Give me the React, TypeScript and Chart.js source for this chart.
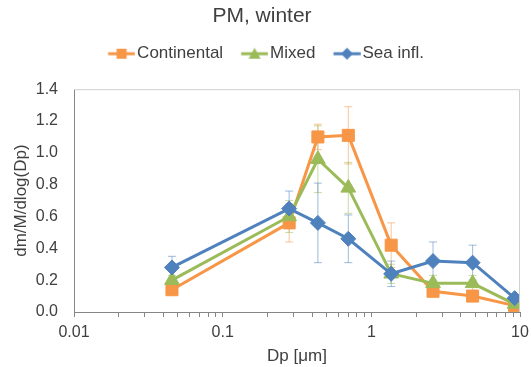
import React, { useEffect, useRef } from 'react';
import { Chart, registerables } from 'chart.js';

Chart.register(...registerables);

// ---- data ----
const sizes = [0.0456, 0.28, 0.437, 0.7, 1.36, 2.6, 4.8, 9.2];
const seriesNames = ['Continental', 'Mixed', 'Sea infl.'];
const continental = [0.14, 0.56, 1.1, 1.11, 0.42, 0.13, 0.1, 0.04];
const continentalErr = [0.03, 0.12, 0.08, 0.18, 0.14, 0.03, 0.02, 0.01];
const mixed = [0.2, 0.6, 0.96, 0.78, 0.24, 0.18, 0.18, 0.05];
const mixedErr = [0.03, 0.1, 0.21, 0.16, 0.06, 0.05, 0.05, 0.02];
const sea = [0.28, 0.65, 0.56, 0.46, 0.24, 0.32, 0.31, 0.087];
const seaErr = [0.07, 0.11, 0.25, 0.15, 0.08, 0.12, 0.11, 0.02];
const xTickValues = [0.01, 0.1, 1, 10];
const xTickLabels = ['0.01', '0.1', '1', '10'];
const yTicks = [0, 0.2, 0.4, 0.6, 0.8, 1.0, 1.2, 1.4];

const colors = ['#F79646', '#9BBB59', '#4F81BD'];
const errColors = ['rgba(247,150,70,0.55)', 'rgba(155,187,89,0.55)', 'rgba(79,129,189,0.55)'];
const markerStyles = ['rect', 'triangle', 'rectRot'];
const markerRadius = [8.5, 8.5, 7.5];
const FONT = '"Liberation Sans", Arial, sans-serif';
const TEXT = '#404040';

function makeIcon(color: string, style: string): HTMLCanvasElement {
  const c = document.createElement('canvas');
  c.width = 36;
  c.height = 16;
  const ctx = c.getContext('2d')!;
  ctx.strokeStyle = color;
  ctx.fillStyle = color;
  ctx.lineWidth = 3;
  ctx.beginPath();
  ctx.moveTo(8.75, 8);
  ctx.lineTo(35.75, 8);
  ctx.stroke();
  const cx = 22.25;
  const cy = 8;
  ctx.beginPath();
  if (style === 'rect') {
    ctx.rect(cx - 5, cy - 5, 10, 10);
  } else if (style === 'triangle') {
    ctx.moveTo(cx, cy - 6);
    ctx.lineTo(cx + 6, cy + 5);
    ctx.lineTo(cx - 6, cy + 5);
    ctx.closePath();
  } else {
    ctx.moveTo(cx, cy - 6);
    ctx.lineTo(cx + 6, cy);
    ctx.lineTo(cx, cy + 6);
    ctx.lineTo(cx - 6, cy);
    ctx.closePath();
  }
  ctx.fill();
  return c;
}

const legendPadPlugin = {
  id: 'legendPad',
  beforeLayout(chart: any) {
    const lg = chart.legend;
    if (lg && !lg._padPatched) {
      const orig = lg.fit;
      lg.fit = function () {
        orig.call(this);
        this.height += 17;
        if (this.lineWidths && this.lineWidths.length) this.lineWidths[0] -= 6;
      };
      lg._padPatched = true;
    }
  },
};

const errorBarPlugin = {
  id: 'errorBars',
  beforeDatasetsDraw(chart: any) {
    const ctx = chart.ctx;
    const xs = chart.scales.x;
    const ys = chart.scales.y;
    chart.data.datasets.forEach((ds: any, i: number) => {
      const errs: number[] = ds.errors || [];
      ctx.save();
      ctx.strokeStyle = errColors[i];
      ctx.lineWidth = 1;
      ds.data.forEach((p: any, j: number) => {
        const e = errs[j] || 0;
        const x = xs.getPixelForValue(p.x);
        const yt = ys.getPixelForValue(p.y + e);
        const yb = ys.getPixelForValue(Math.max(0, p.y - e));
        ctx.beginPath();
        ctx.moveTo(x, yt);
        ctx.lineTo(x, yb);
        ctx.moveTo(x - 4, yt);
        ctx.lineTo(x + 4, yt);
        ctx.moveTo(x - 4, yb);
        ctx.lineTo(x + 4, yb);
        ctx.stroke();
      });
      ctx.restore();
    });
  },
};

const frameBorderPlugin = {
  id: 'frameBorder',
  afterDraw(chart: any) {
    const { ctx, chartArea } = chart;
    ctx.save();
    ctx.strokeStyle = '#D0D0D0';
    ctx.lineWidth = 1;
    ctx.beginPath();
    ctx.moveTo(chartArea.left, chartArea.top + 0.5);
    ctx.lineTo(chartArea.right - 0.5, chartArea.top + 0.5);
    ctx.lineTo(chartArea.right - 0.5, chartArea.bottom);
    ctx.stroke();
    ctx.restore();
  },
};

export default function App() {
  const ref = useRef<HTMLCanvasElement>(null);

  useEffect(() => {
    if (!ref.current) return;
    const values = [continental, mixed, sea];
    const errs = [continentalErr, mixedErr, seaErr];
    const icons = colors.map((c, i) => makeIcon(c, markerStyles[i]));

    const datasets = seriesNames.map((name, i) => ({
      label: name,
      data: sizes.map((x, j) => ({ x, y: values[i][j] })),
      errors: errs[i],
      borderColor: colors[i],
      backgroundColor: colors[i],
      borderWidth: 3,
      pointStyle: markerStyles[i],
      pointRadius: markerRadius[i],
      pointBorderWidth: 1,
      pointBackgroundColor: colors[i],
      pointBorderColor: colors[i],
      tension: 0,
      order: 2 - i,
    }));

    const chart = new Chart(ref.current, {
      type: 'line',
      data: { datasets },
      plugins: [legendPadPlugin, errorBarPlugin, frameBorderPlugin],
      options: {
        animation: false,
        responsive: false,
        layout: { padding: { left: 0, right: 7, top: 0, bottom: 0 } },
        plugins: {
          tooltip: { enabled: false },
          title: {
            display: true,
            text: 'PM, winter',
            color: TEXT,
            font: { family: FONT, size: 21, weight: 'normal' },
            padding: { top: 4, bottom: 0 },
          },
          legend: {
            display: true,
            position: 'top',
            labels: {
              usePointStyle: true,
              pointStyleWidth: 22.5,
              padding: 16,
              color: TEXT,
              font: { family: FONT, size: 17 },
              generateLabels: (ch: any) =>
                ch.data.datasets.map((ds: any, i: number) => ({
                  text: ds.label,
                  fillStyle: colors[i],
                  strokeStyle: colors[i],
                  lineWidth: 0,
                  pointStyle: icons[i],
                  hidden: false,
                  datasetIndex: i,
                  fontColor: TEXT,
                })),
              sort: (a: any, b: any) => a.datasetIndex - b.datasetIndex,
            },
          },
        },
        scales: {
          x: {
            type: 'logarithmic',
            min: 0.01,
            max: 10,
            afterBuildTicks: (scale: any) => {
              const t: any[] = [];
              for (let e = -2; e <= 0; e++) {
                for (let m = 1; m <= 9; m++) {
                  t.push({ value: parseFloat((m * Math.pow(10, e)).toPrecision(3)) });
                }
              }
              t.push({ value: 10 });
              scale.ticks = t;
            },
            afterFit: (scale: any) => {
              scale.height = 55;
              scale.paddingRight = 11;
            },
            ticks: {
              autoSkip: false,
              maxRotation: 0,
              minRotation: 0,
              padding: 6,
              color: TEXT,
              font: { family: FONT, size: 16 },
              callback: (v: any) => {
                const k = xTickValues.findIndex((q) => Math.abs(q - Number(v)) < 1e-9);
                return k >= 0 ? xTickLabels[k] : '';
              },
            },
            grid: {
              display: true,
              drawOnChartArea: false,
              drawTicks: true,
              tickLength: 5,
              color: '#868686',
            },
            border: { display: true, color: '#868686', width: 1 },
            title: {
              display: true,
              text: 'Dp [μm]',
              color: TEXT,
              font: { family: FONT, size: 17 },
              padding: { top: 0, bottom: 0 },
            },
          },
          y: {
            type: 'linear',
            min: 0,
            max: 1.4,
            afterBuildTicks: (scale: any) => {
              scale.ticks = yTicks.map((v) => ({ value: v }));
            },
            afterFit: (scale: any) => {
              scale.width = 74;
            },
            ticks: {
              padding: 16,
              color: TEXT,
              font: { family: FONT, size: 16 },
              callback: (v: any) => Number(v).toFixed(1),
            },
            grid: {
              display: true,
              drawOnChartArea: false,
              drawTicks: false,
              color: '#868686',
            },
            border: { display: true, color: '#868686', width: 1 },
            title: {
              display: true,
              text: 'dm/M/dlog(Dp)',
              color: TEXT,
              font: { family: FONT, size: 17 },
              padding: { top: 11, bottom: 0 },
            },
          },
        },
      } as any,
    });
    return () => chart.destroy();
  }, []);

  return (
    <canvas
      ref={ref}
      width={531}
      height={367}
      style={{ position: 'absolute', left: 0, top: 0, display: 'block' }}
    />
  );
}
